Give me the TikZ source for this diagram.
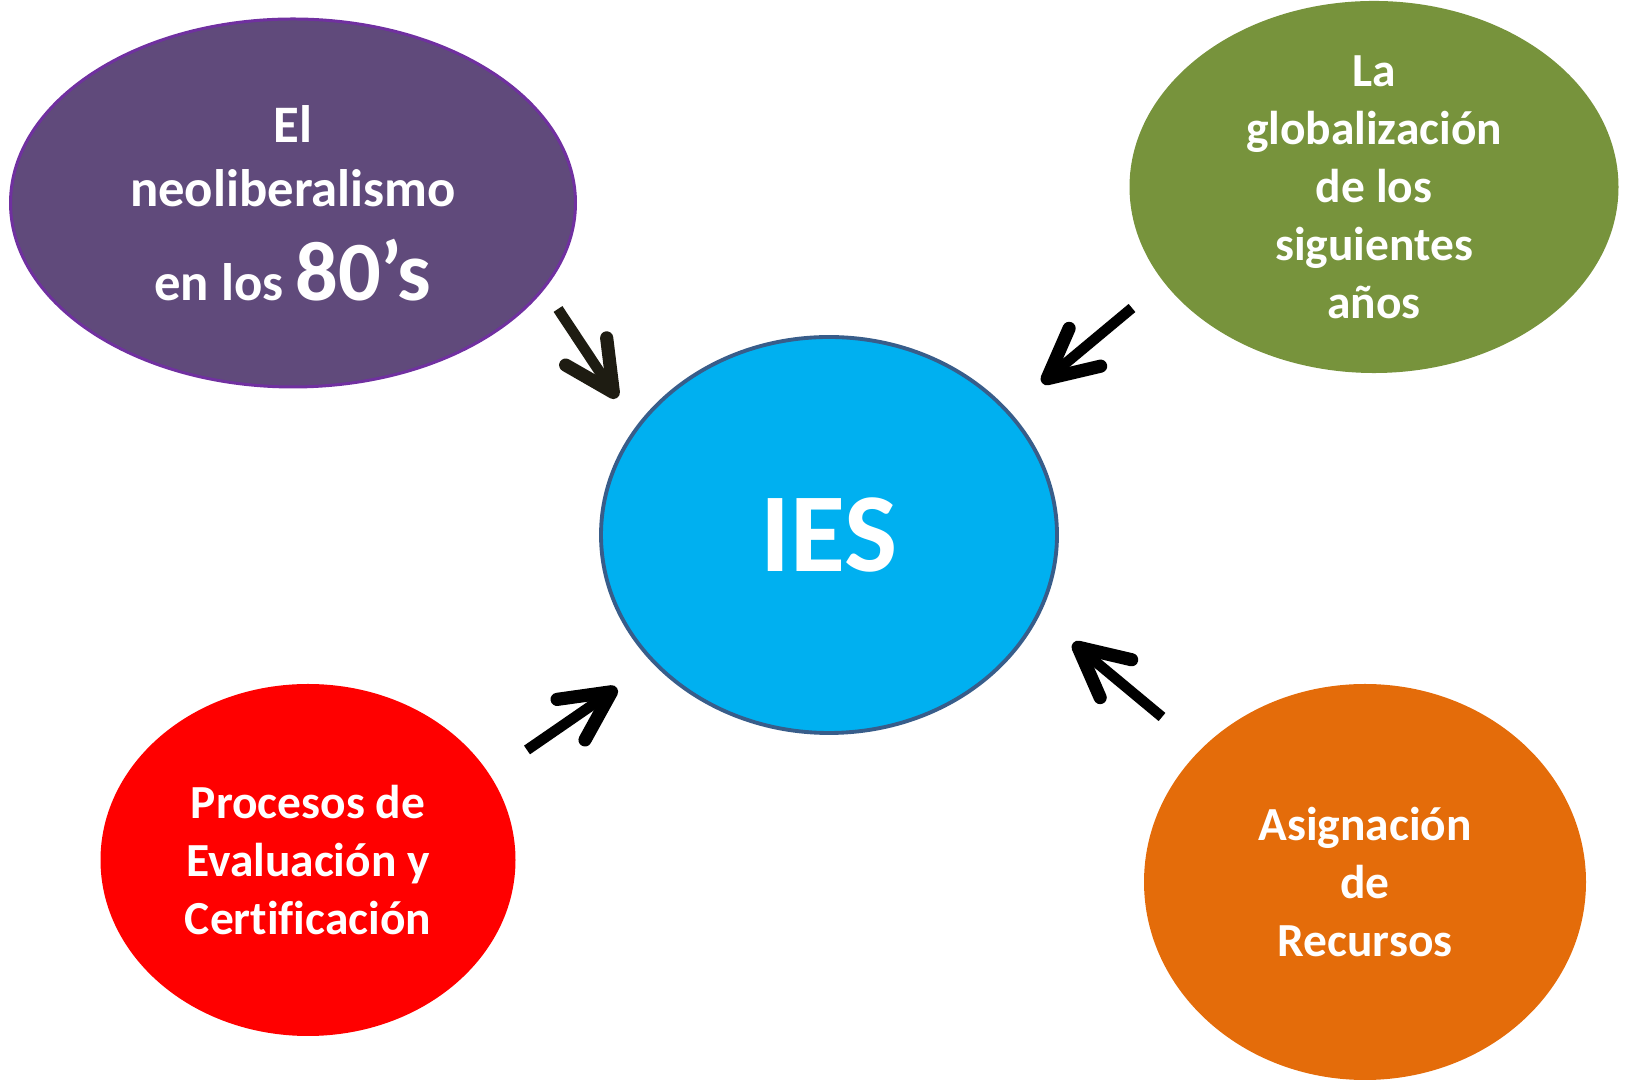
\documentclass[tikz,border=0pt]{standalone}
\usepackage{fontspec}
\setmainfont{Carlito}[Ligatures=NoCommon]
\usetikzlibrary{shapes.geometric,arrows.meta}

\definecolor{neolib}{HTML}{604A7B}
\definecolor{neolibline}{HTML}{7030A0}
\definecolor{glob}{HTML}{77933C}
\definecolor{ies}{HTML}{00B0F0}
\definecolor{iesline}{HTML}{385D8A}
\definecolor{evalred}{HTML}{FF0000}
\definecolor{recorange}{HTML}{E46C0A}
\definecolor{inkdark}{HTML}{1E1C12}

\begin{document}
\begin{tikzpicture}[{every node/.append style}={ellipse, inner sep=0pt, text=white, align=center, font=\bfseries\fontsize{13.5}{16.5}\selectfont}, push/.style={-{Straight Barb[length=14pt, width=14pt, line width=0pt 1.25, round]}, line width=3pt}]

\useasboundingbox (0, 0) rectangle (16.25, -10.81);

\node [fill=neolib, draw=neolibline, line width=0.85pt, minimum width=5.65cm, minimum height=3.68cm, font=\bfseries\fontsize{15}{18.3}\selectfont] (L80) at (2.93, -2.03) {El\\ neoliberalismo\\[8.3pt] en los {\fontsize{24}{29}\selectfont 80’s}};
\node [fill=glob, minimum width=4.89cm, minimum height=3.70cm] (Glob) at (13.74, -1.87) {La\\ globalización\\ de los\\ siguientes\\ años};
\node [fill=ies, draw=iesline, line width=1.1pt, minimum width=4.56cm, minimum height=3.96cm, font=\bfseries\fontsize{32}{38}\selectfont] (IES) at (8.29, -5.35) {IES};
\node [fill=evalred, minimum width=4.15cm, minimum height=3.52cm] (Eval) at (3.08, -8.60) {Procesos de\\ Evaluación y\\ Certificación};
\node [fill=recorange, minimum width=4.42cm, minimum height=3.96cm] (Rec) at (13.65, -8.82) {Asignación\\ de\\ Recursos};

\coordinate (A1) at (5.58, -3.09);
\coordinate (B1) at (6.17, -3.98);
\coordinate (A2) at (11.32, -3.08);
\coordinate (B2) at (10.42, -3.83);
\coordinate (A3) at (5.27, -7.50);
\coordinate (B3) at (6.17, -6.88);
\coordinate (A4) at (11.62, -7.17);
\coordinate (B4) at (10.73, -6.43);

\draw [push, draw=inkdark] (A1) to (B1);
\draw [push, draw=black] (A2) to (B2);
\draw [push, draw=black] (A3) to (B3);
\draw [push, draw=black] (A4) to (B4);

\end{tikzpicture}
\end{document}
